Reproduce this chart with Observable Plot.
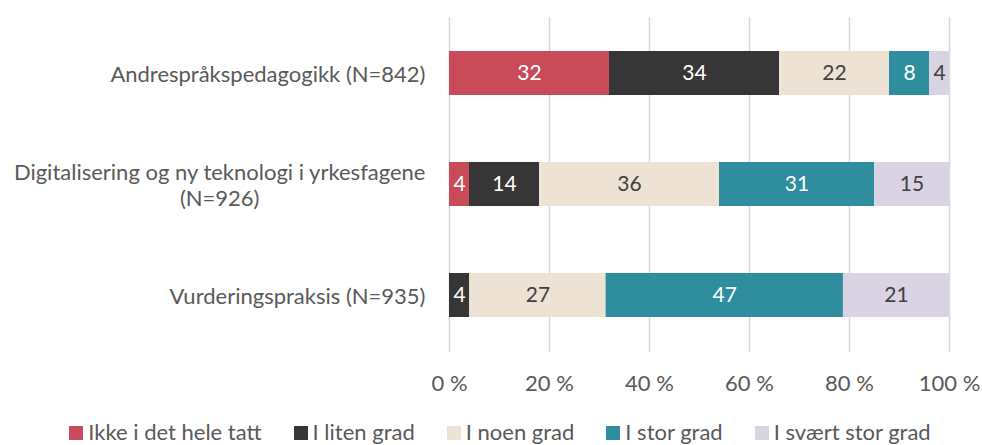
<!DOCTYPE html>
<html>
<head>
<meta charset="utf-8">
<script src="https://cdn.jsdelivr.net/npm/d3@7"></script>
<script src="https://cdn.jsdelivr.net/npm/@observablehq/plot@0.6"></script>
<style>
  html, body { margin: 0; padding: 0; background: #fff; }
  body { width: 982px; height: 445px; overflow: hidden; font-family: "Lato", sans-serif; }
  #chart svg { display: block; }
  #legend { display: flex; justify-content: center; margin-left: 18px; margin-top: 5px; font-size: 22px; line-height: 24px; color: #595959; white-space: nowrap; }
  .item { display: flex; align-items: center; margin: 0 16px; }
  .sw { width: 14px; height: 14px; margin-right: 5px; margin-top: 2px; }
</style>
</head>
<body>
<div id="chart"></div>
<div id="legend"></div>
<script>
const categories = [
  "Andrespråkspedagogikk (N=842)",
  "Digitalisering og ny teknologi i yrkesfagene (N=926)",
  "Vurderingspraksis (N=935)"
];
const categoryLabels = [
  "Andrespråkspedagogikk (N=842)",
  "Digitalisering og ny teknologi i yrkesfagene\n(N=926)",
  "Vurderingspraksis (N=935)"
];
const series = ["Ikke i det hele tatt", "I liten grad", "I noen grad", "I stor grad", "I svært stor grad"];
const ikkeIDetHeleTatt = [32, 4, 0];
const iLitenGrad = [34, 14, 4];
const iNoenGrad = [22, 36, 27];
const iStorGrad = [8, 31, 47];
const iSvaertStorGrad = [4, 15, 21];
const xTicks = [0, 0.2, 0.4, 0.6, 0.8, 1];

const colors = ["#C94A59", "#363636", "#EDE2D3", "#2E8E9E", "#DAD3E3"];
const textColors = ["#ffffff", "#ffffff", "#404040", "#ffffff", "#404040"];

const seriesValues = [ikkeIDetHeleTatt, iLitenGrad, iNoenGrad, iStorGrad, iSvaertStorGrad];
const data = [];
series.forEach((s, si) => {
  categories.forEach((c, ci) => {
    const v = seriesValues[si][ci];
    if (v > 0) data.push({cat: c, series: s, value: v, si});
  });
});

const labelMap = new Map(categories.map((c, i) => [c, categoryLabels[i]]));

const chart = Plot.plot({
  width: 982,
  height: 415,
  marginLeft: 449,
  marginRight: 33,
  marginTop: 17,
  marginBottom: 63,
  style: {fontFamily: "Lato, sans-serif", fontSize: "22px", color: "#595959", background: "#fff"},
  x: {domain: [0, 1], label: null},
  y: {domain: categories, paddingInner: 0.6, paddingOuter: 0.3, label: null},
  color: {domain: series, range: colors},
  marks: [
    Plot.gridX(xTicks, {stroke: "#d9d9d9", strokeOpacity: 1, strokeWidth: 1.5}),
    Plot.barX(data, Plot.stackX({x: "value", y: "cat", z: "series", order: series, offset: "normalize", fill: "series"})),
    Plot.text(data, Plot.stackX({x: "value", y: "cat", z: "series", order: series, offset: "normalize",
      text: d => String(d.value), fill: d => textColors[d.si], fontSize: 21})),
    Plot.axisY({tickSize: 0, tickPadding: 24, tickFormat: d => labelMap.get(d), fontSize: 22, label: null, lineHeight: 1.18}),
    Plot.axisX({ticks: xTicks, tickSize: 0, tickPadding: 23, tickFormat: d => Math.round(d * 100) + " %", fontSize: 22, label: null})
  ]
});
document.getElementById("chart").appendChild(chart);

// center multi-line y-axis labels (as in the original)
chart.querySelectorAll("g[aria-label='y-axis tick label'] text").forEach(t => {
  const spans = t.querySelectorAll("tspan");
  if (spans.length > 1) {
    const w = t.getBBox().width;
    const x0 = parseFloat(spans[0].getAttribute("x") || "0");
    t.setAttribute("text-anchor", "middle");
    spans.forEach(sp => sp.setAttribute("x", x0 - w / 2));
  }
});

const legend = document.getElementById("legend");
series.forEach((s, i) => {
  const item = document.createElement("div");
  item.className = "item";
  const sw = document.createElement("div");
  sw.className = "sw";
  sw.style.background = colors[i];
  const t = document.createElement("span");
  t.textContent = s;
  item.appendChild(sw);
  item.appendChild(t);
  legend.appendChild(item);
});
</script>
</body>
</html>
